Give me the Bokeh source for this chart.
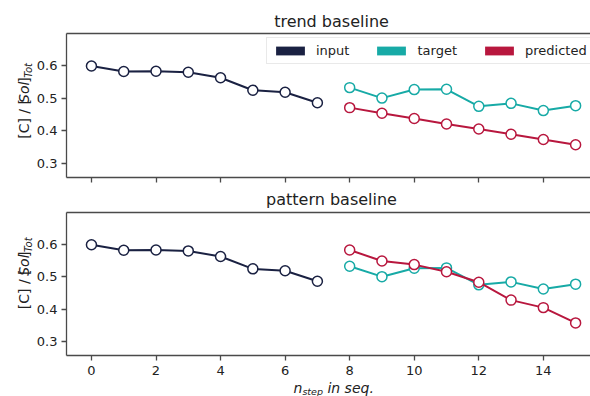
import numpy as np
from bokeh.plotting import figure
from bokeh.layouts import column, row
from bokeh.models import (Range1d, FixedTicker, LinearAxis, Legend, LegendItem,
                          ColumnDataSource, CustomLabelingPolicy)
from bokeh.core.properties import value
from bokeh.embed import file_html
from bokeh.resources import INLINE

# ---------------- data ----------------
steps_in = [0, 1, 2, 3, 4, 5, 6, 7]
steps_out = [8, 9, 10, 11, 12, 13, 14, 15]
input_vals = [0.598, 0.581, 0.582, 0.579, 0.562, 0.524, 0.518, 0.486]
target_vals = [0.532, 0.500, 0.526, 0.527, 0.475, 0.484, 0.462, 0.477]
pred_trend = [0.471, 0.454, 0.438, 0.421, 0.406, 0.390, 0.374, 0.358]
pred_pattern = [0.582, 0.548, 0.537, 0.515, 0.483, 0.428, 0.405, 0.358]
panel_titles = ["trend baseline", "pattern baseline"]
series_names = ["input", "target", "predicted"]
x_ticks = [0, 2, 4, 6, 8, 10, 12, 14]
y_ticks = [0.3, 0.4, 0.5, 0.6]

C_IN = "#1a2142"
C_TG = "#17aaa6"
C_PR = "#b8173e"
FONT = "DejaVu Sans"
AX = "#4a4a4a"
TXT = "#222222"

W = 590
YLAB_W = 33
MID = 0.346  # baseline -> middle offset (em)


def text_fig(width, height):
    f = figure(width=width, height=height, output_backend="svg", toolbar_location=None,
               x_range=Range1d(0, width), y_range=Range1d(0, height),
               x_axis_location=None, y_axis_location=None,
               min_border_left=0, min_border_right=0, min_border_top=0,
               min_border_bottom=0)
    f.outline_line_color = None
    f.xgrid.visible = False
    f.ygrid.visible = False
    return f


def title_fig(text, height, baseline_from_bottom):
    f = text_fig(W, height)
    fs = 16
    f.text(x=[331], y=[baseline_from_bottom + MID * fs], text=[text],
           text_font=value(FONT), text_font_size=f"{fs}px", text_color=TXT,
           text_align="center", text_baseline="middle")
    return f


def ylabel_fig(height, y0):
    f = text_fig(YLAB_W, height)
    fs = 14
    fsub = 10
    w1 = 2.841 * fs
    w2 = 1.525 * fs + 0.08 * fs
    w3 = 0.39 * fs
    base_main = 28
    base_sub = 31
    pieces = [("[C] / [", "normal", fs, y0, base_main - MID * fs),
              ("Sol", "italic", fs, y0 + w1, base_main - MID * fs),
              ("]", "normal", fs, y0 + w1 + w2, base_main - MID * fs),
              ("Tot", "italic", fsub, y0 + w1 + w2 + w3, base_sub - MID * fsub)]
    for txt, style, size, yy, xx in pieces:
        f.text(x=[xx], y=[yy], text=[txt], text_font=value(FONT),
               text_font_style=style, text_font_size=f"{size}px", text_color=TXT,
               angle=np.pi / 2, text_align="left", text_baseline="middle")
    return f


def make_panel(pred, height, top, bottom, show_xlabels):
    p = figure(width=W - YLAB_W, height=height, output_backend="svg",
               toolbar_location=None,
               x_range=Range1d(-0.773, 15.461), y_range=Range1d(0.258, 0.697),
               min_border_left=32, min_border_right=0, min_border_top=top,
               min_border_bottom=bottom)
    p.outline_line_color = None
    p.xgrid.visible = False
    p.ygrid.visible = False
    for ax in (p.xaxis[0], p.yaxis[0]):
        ax.axis_line_color = AX
        ax.axis_line_width = 1.3
        ax.major_tick_line_color = AX
        ax.major_tick_line_width = 1.3
        ax.major_tick_out = 5
        ax.major_tick_in = 0
        ax.minor_tick_line_color = None
        ax.major_label_text_font = FONT
        ax.major_label_text_font_size = "13px"
        ax.major_label_text_color = TXT
    p.xaxis.ticker = FixedTicker(ticks=x_ticks)
    p.yaxis.ticker = FixedTicker(ticks=y_ticks)
    p.yaxis.major_label_standoff = 4
    p.xaxis.major_label_standoff = 5
    if not show_xlabels:
        # shared x axis: ticks only, no labels drawn and no space reserved
        p.xaxis.major_label_text_font_size = "0px"
        p.xaxis.major_label_standoff = 0
        p.xaxis.major_label_policy = CustomLabelingPolicy(
            code="for (const i of Array.from(indices)) { indices.unset(i) }\nreturn indices")
    top_ax = LinearAxis(ticker=FixedTicker(ticks=[]), axis_line_color=AX,
                        axis_line_width=1.3, major_tick_line_color=None,
                        minor_tick_line_color=None, major_label_standoff=0)
    p.add_layout(top_ax, "above")

    p.line(steps_in, input_vals, line_color=C_IN, line_width=2)
    p.scatter(steps_in, input_vals, marker="circle", size=10, line_color=C_IN,
              line_width=1.5, fill_color="white")
    p.line(steps_out, target_vals, line_color=C_TG, line_width=2)
    p.scatter(steps_out, target_vals, marker="circle", size=10, line_color=C_TG,
              line_width=1.5, fill_color="white")
    p.line(steps_out, pred, line_color=C_PR, line_width=2)
    p.scatter(steps_out, pred, marker="circle", size=10, line_color=C_PR,
              line_width=1.5, fill_color="white")
    return p


# top block: title 0-30, panel 30-190
t1 = title_fig(panel_titles[0], 30, 3)
p1 = make_panel(pred_trend, 160, 3, 13, False)
yl1 = ylabel_fig(160, 43)

# legend with patch swatches (dummy renderers holding no visible data)
src_dummy = ColumnDataSource(data=dict(l=[np.nan], r=[np.nan], b=[np.nan], t=[np.nan]))
items = []
for name, col in zip(series_names, [C_IN, C_TG, C_PR]):
    q = p1.quad(left="l", right="r", bottom="b", top="t", source=src_dummy,
                fill_color=col, line_color=None)
    items.append(LegendItem(label=name, renderers=[q]))
leg = Legend(items=items, orientation="horizontal", location=(200, 113),
             glyph_width=36, glyph_height=11, label_standoff=8, spacing=24,
             padding=5, margin=0, label_height=15, label_width=10,
             label_text_font=FONT, label_text_font_size="13px",
             label_text_color=TXT, border_line_color="#d4d4d4",
             border_line_width=1, background_fill_alpha=0.85)
p1.add_layout(leg, "center")

# bottom block: title 190-210, panel 210-380, x label 380-396
t2 = title_fig(panel_titles[1], 20, 5)
p2 = make_panel(pred_pattern, 170, 2, 25, True)
yl2 = ylabel_fig(170, 55)

xl = text_fig(W, 16)
fsx = 14
fsub = 9.5
xs = 293
x_step = xs + 0.634 * fsx
x_rest = x_step + 2.163 * fsub + 0.318 * fsx
xl.text(x=[xs], y=[4 + MID * fsx], text=["n"], text_font=value(FONT),
        text_font_style="italic", text_font_size=f"{fsx}px", text_color=TXT,
        text_align="left", text_baseline="middle")
xl.text(x=[x_step], y=[1.5 + MID * fsub], text=["step"], text_font=value(FONT),
        text_font_style="italic", text_font_size=f"{fsub}px", text_color=TXT,
        text_align="left", text_baseline="middle")
xl.text(x=[x_rest], y=[4 + MID * fsx], text=["in seq."], text_font=value(FONT),
        text_font_style="italic", text_font_size=f"{fsx}px", text_color=TXT,
        text_align="left", text_baseline="middle")

layout = column(t1, row(yl1, p1, spacing=0), t2, row(yl2, p2, spacing=0), xl,
                spacing=0)
open("out.html", "w").write(file_html(layout, INLINE))
